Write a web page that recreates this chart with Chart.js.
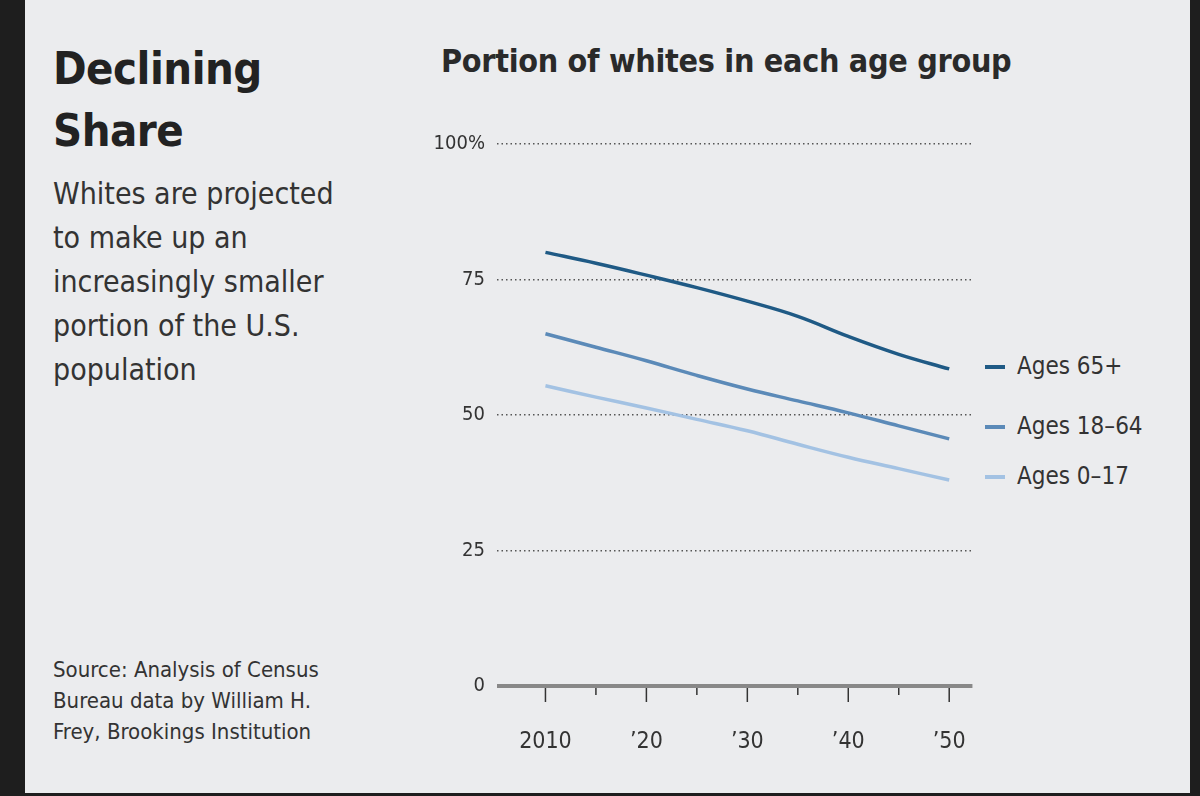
<!DOCTYPE html>
<html>
<head>
<meta charset="utf-8">
<script src="https://cdn.jsdelivr.net/npm/chart.js@4"></script>
<style>
  body { margin: 0; background: #1e1e1e; width: 1200px; height: 796px; overflow: hidden; }
  #panel { position: absolute; left: 25px; top: 0; width: 1165px; height: 793px; background: #ebecee;
           font-family: "Liberation Sans Narrow", "DejaVu Sans Condensed", sans-serif; color: #222; }
  .t { position: absolute; white-space: nowrap; }
  #head { left: 28px; top: 38px; font-size: 45px; line-height: 62px; font-weight: 600; letter-spacing: -0.5px; }
  #sub { left: 28px; top: 172px; font-size: 30px; line-height: 44px; color: #333; }
  #src { left: 28px; top: 654px; font-size: 22px; line-height: 31px; color: #333; }
  #ctitle { left: 416px; top: 42px; font-size: 32px; font-weight: 600; color: #2a2a2a; letter-spacing: -0.3px; }
  .leg { position: absolute; left: 960px; font-size: 24px; color: #333; white-space: nowrap; }
  .leg i { display: inline-block; width: 20px; height: 4px; vertical-align: middle; margin-right: 12px; }
  #wrap { position: absolute; left: 390px; top: 120px; width: 585px; height: 640px; }
</style>
</head>
<body>
<div id="panel">
  <div class="t" id="head">Declining<br>Share</div>
  <div class="t" id="sub">Whites are projected<br>to make up an<br>increasingly smaller<br>portion of the U.S.<br>population</div>
  <div class="t" id="src">Source: Analysis of Census<br>Bureau data by William H.<br>Frey, Brookings Institution</div>
  <div class="t" id="ctitle">Portion of whites in each age group</div>
  <div class="leg" style="top:352px"><i style="background:#1f5a85"></i>Ages 65+</div>
  <div class="leg" style="top:412px"><i style="background:#5b8ab8"></i>Ages 18–64</div>
  <div class="leg" style="top:462px"><i style="background:#a3c2e3"></i>Ages 0–17</div>
  <div id="wrap"><canvas id="c"></canvas></div>
</div>
<script>
const years = [2010, 2015, 2020, 2025, 2030, 2035, 2040, 2045, 2050];
const ages65 = [80.0, 78.0, 75.8, 73.5, 71.0, 68.2, 64.5, 61.2, 58.5];
const ages18 = [65.0, 62.5, 60.0, 57.3, 54.8, 52.6, 50.4, 48.0, 45.6];
const ages0 = [55.4, 53.3, 51.3, 49.2, 47.1, 44.6, 42.2, 40.1, 38.0];
const yTicks = [0, 25, 50, 75, 100];
const xLabels = { 2010: '2010', 2020: '\u201920', 2030: '\u201930', 2040: '\u201940', 2050: '\u201950' };

const pts = arr => arr.map((v, i) => ({ x: years[i], y: v }));
const font = { family: '"Liberation Sans Narrow", "DejaVu Sans Condensed", sans-serif', size: 23 };

// tick marks under the x axis: long for decades, short for half-decades
const tickMarks = {
  id: 'tickMarks',
  afterDraw(chart) {
    const ctx = chart.ctx, x = chart.scales.x, y0 = chart.chartArea.bottom;
    ctx.save();
    ctx.strokeStyle = '#333';
    ctx.lineWidth = 1.5;
    years.forEach(yr => {
      const px = x.getPixelForValue(yr);
      ctx.beginPath();
      ctx.moveTo(px, y0);
      ctx.lineTo(px, y0 + (yr % 10 === 0 ? 16 : 9));
      ctx.stroke();
    });
    ctx.strokeStyle = '#888';
    ctx.lineWidth = 4;
    ctx.beginPath();
    ctx.moveTo(chart.chartArea.left, y0);
    ctx.lineTo(chart.chartArea.right, y0);
    ctx.stroke();
    ctx.restore();
  }
};

const line = (data, color) => ({ data: pts(data), borderColor: color, borderWidth: 3.5, pointRadius: 0, tension: 0.4, fill: false });

new Chart(document.getElementById('c'), {
  type: 'line',
  data: { datasets: [line(ages65, '#1f5a85'), line(ages18, '#5b8ab8'), line(ages0, '#a3c2e3')] },
  plugins: [tickMarks],
  options: {
    responsive: true,
    maintainAspectRatio: false,
    animation: false,
    layout: { padding: { top: 12, right: 7, left: 0, bottom: 0 } },
    plugins: { legend: { display: false }, tooltip: { enabled: false } },
    scales: {
      x: {
        type: 'linear', min: 2005.2, max: 2052.3,
        afterBuildTicks: s => { s.ticks = Object.keys(xLabels).map(v => ({ value: +v })); },
        afterFit: s => { s.height = 74; },
        border: { display: false },
        grid: { display: false },
        ticks: { callback: v => xLabels[v] || '', color: '#333', font, padding: 34, maxRotation: 0 }
      },
      y: {
        min: 0, max: 100,
        afterBuildTicks: s => { s.ticks = yTicks.map(v => ({ value: v })); },
        afterFit: s => { s.width = 82; },
        border: { display: false, dash: [1.5, 3] },
        grid: { color: c => c.tick.value === 0 ? 'rgba(0,0,0,0)' : '#555', lineWidth: 1.5, drawTicks: false },
        ticks: { callback: v => v === 100 ? '100%' : v, color: '#333', font: { ...font, size: 20 }, padding: 12 }
      }
    }
  }
});
</script>
</body>
</html>
